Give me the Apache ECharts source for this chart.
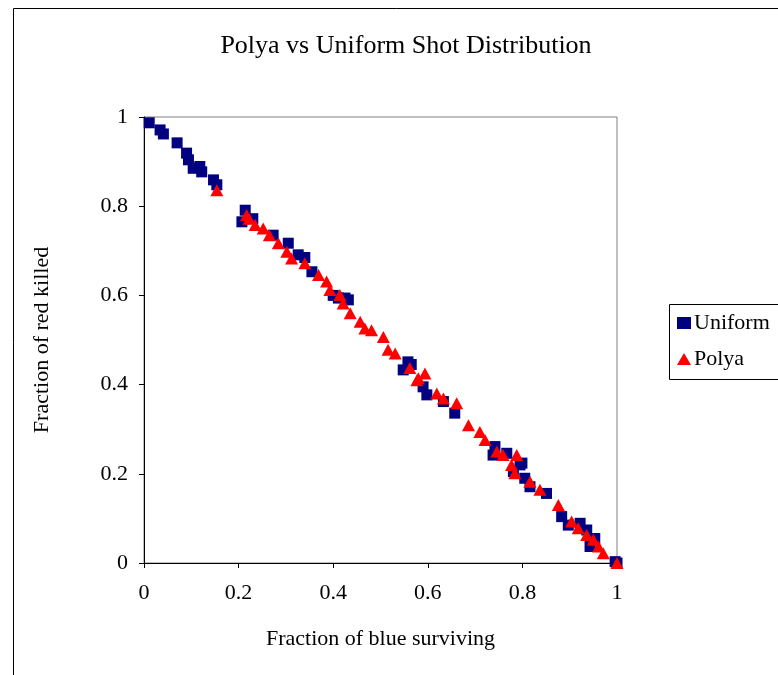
<!DOCTYPE html>
<html>
<head>
<meta charset="utf-8">
<script src="https://cdn.jsdelivr.net/npm/echarts@6/dist/echarts.min.js"></script>
<style>
	html, body { margin: 0; padding: 0; background: #fff; }
	#chart { width: 778px; height: 675px; }
</style>
</head>
<body>
<div id="chart"></div>
<script>
// values: [fraction of blue surviving, fraction of red killed]
let uniformPts = [
	[0.011, 0.987], [0.034, 0.971], [0.041, 0.962], [0.070, 0.942], [0.090, 0.919],
	[0.094, 0.904], [0.104, 0.885], [0.118, 0.889], [0.122, 0.877], [0.147, 0.859],
	[0.154, 0.848], [0.207, 0.765], [0.214, 0.791], [0.230, 0.772], [0.273, 0.735],
	[0.305, 0.717], [0.326, 0.691], [0.340, 0.685], [0.355, 0.653], [0.400, 0.600],
	[0.411, 0.594], [0.425, 0.594], [0.432, 0.590], [0.548, 0.433], [0.558, 0.451],
	[0.565, 0.445], [0.590, 0.395], [0.598, 0.377], [0.633, 0.362], [0.657, 0.336],
	[0.738, 0.242], [0.742, 0.261], [0.767, 0.246], [0.781, 0.205], [0.795, 0.220],
	[0.799, 0.224], [0.805, 0.190], [0.816, 0.171], [0.851, 0.156], [0.883, 0.104],
	[0.897, 0.085], [0.922, 0.089], [0.936, 0.074], [0.943, 0.037], [0.953, 0.055],
	[0.996, 0.003], [1.000, 0.000]
];
let polyaPts = [
	[0.154, 0.836], [0.217, 0.780], [0.222, 0.772], [0.235, 0.758], [0.252, 0.750],
	[0.265, 0.735], [0.284, 0.717], [0.302, 0.698], [0.312, 0.683], [0.340, 0.672],
	[0.369, 0.646], [0.386, 0.631], [0.393, 0.612], [0.414, 0.601], [0.421, 0.582],
	[0.436, 0.560], [0.457, 0.541], [0.467, 0.526], [0.481, 0.522], [0.506, 0.507],
	[0.516, 0.478], [0.531, 0.470], [0.562, 0.437], [0.577, 0.410], [0.580, 0.414],
	[0.594, 0.425], [0.619, 0.380], [0.633, 0.369], [0.661, 0.358], [0.686, 0.309],
	[0.710, 0.294], [0.721, 0.276], [0.746, 0.250], [0.759, 0.242], [0.777, 0.220],
	[0.784, 0.201], [0.788, 0.242], [0.816, 0.182], [0.837, 0.164], [0.876, 0.130],
	[0.904, 0.093], [0.918, 0.078], [0.936, 0.063], [0.950, 0.052], [0.961, 0.037],
	[0.971, 0.022], [1.000, 0.000]
];
let seriesNames = ["Uniform", "Polya"];
let tickStep = 0.2;

let font = "'Liberation Serif', 'Times New Roman', serif";
let myChart = echarts.init(document.getElementById("chart"), null, {renderer: "canvas"});
let option = {
	backgroundColor: "#fff",
	animation: false,
	title: {
		text: "Polya vs Uniform Shot Distribution",
		left: 401,
		top: 28,
		textAlign: "center",
		textStyle: {fontFamily: font, fontSize: 26, fontWeight: "normal", color: "#000"}
	},
	graphic: [
		// outer chart frame (runs off the right and bottom edge)
		{type: "rect", left: 11, top: 6, shape: {width: 820, height: 720},
			style: {fill: "none", stroke: "#000", lineWidth: 1}, silent: true},
		// legend frame
		{type: "rect", left: 667, top: 302, shape: {width: 140, height: 75},
			style: {fill: "none", stroke: "#000", lineWidth: 1}, silent: true}
	],
	legend: {
		orient: "vertical",
		left: 672,
		top: 307,
		itemGap: 14,
		itemWidth: 14,
		itemHeight: 12,
		textStyle: {fontFamily: font, fontSize: 22, color: "#000", padding: [0, 0, 0, -2]},
		data: [
			{name: seriesNames[0], icon: "rect", itemStyle: {opacity: 1}},
			{name: seriesNames[1], icon: "triangle", itemStyle: {opacity: 1}}
		]
	},
	grid: {
		left: 144, top: 117, width: 473, height: 446,
		show: true, borderColor: "#808080", borderWidth: 1, backgroundColor: "#fff"
	},
	xAxis: {
		type: "value", min: 0, max: 1, interval: tickStep,
		name: "Fraction of blue surviving",
		nameLocation: "middle", nameGap: 65,
		nameTextStyle: {fontFamily: font, fontSize: 22, color: "#000"},
		axisLine: {lineStyle: {color: "#000", width: 1}},
		axisTick: {show: true, inside: false, length: 5, lineStyle: {color: "#000"}},
		axisLabel: {fontFamily: font, fontSize: 22, color: "#000", margin: 19},
		splitLine: {show: false}
	},
	yAxis: {
		type: "value", min: 0, max: 1, interval: tickStep,
		name: "Fraction of red killed",
		nameLocation: "middle", nameGap: 91, nameRotate: 90,
		nameTextStyle: {fontFamily: font, fontSize: 22, color: "#000"},
		axisLine: {show: true, lineStyle: {color: "#000", width: 1}},
		axisTick: {show: true, inside: false, length: 5, lineStyle: {color: "#000"}},
		axisLabel: {fontFamily: font, fontSize: 22, color: "#000", margin: 16},
		splitLine: {show: false}
	},
	series: [
		{
			name: seriesNames[0],
			type: "scatter",
			symbol: "rect",
			symbolSize: 11,
			itemStyle: {color: "#000080", opacity: 1},
			data: uniformPts
		},
		{
			name: seriesNames[1],
			type: "scatter",
			symbol: "triangle",
			symbolSize: [13, 12],
			itemStyle: {color: "#ff0000", opacity: 1},
			data: polyaPts
		}
	]
};
myChart.setOption(option);
</script>
</body>
</html>
